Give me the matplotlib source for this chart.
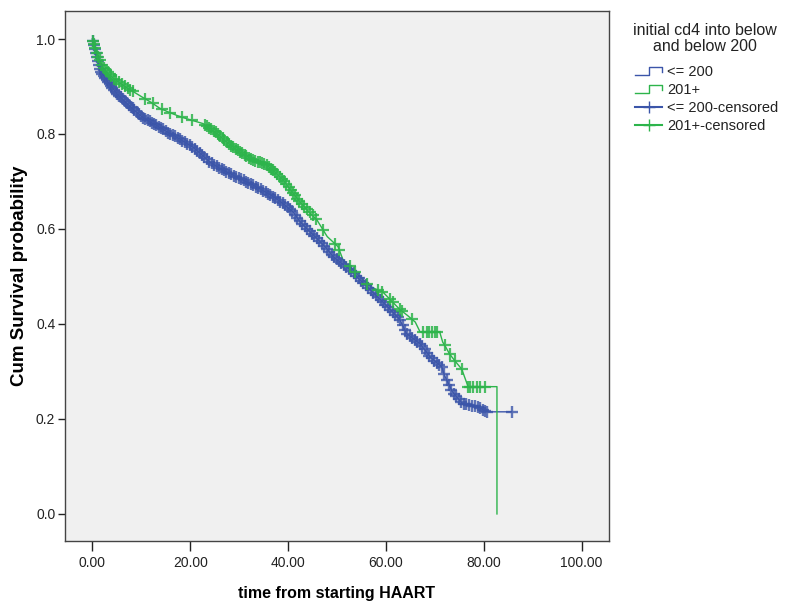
import numpy as np
import matplotlib
matplotlib.use('Agg')
import matplotlib.pyplot as plt
from matplotlib.lines import Line2D
from matplotlib.legend_handler import HandlerBase

plt.rcParams['font.family'] = ['Liberation Sans', 'DejaVu Sans']

# survival curves (time, cum survival)
blue_t = [0, 0.95, 1.6, 3.0, 5.0, 7.1, 8.7, 10.3, 12.1, 13.8,
          15.5, 17.3, 19.0, 20.6, 22.4, 24.0, 25.7, 27.5, 29.2, 30.8,
          32.5, 34.2, 36.0, 37.7, 39.4, 41.0, 42.4, 44.1, 45.9, 47.7,
          49.2, 50.9, 52.6, 54.3, 56.1, 57.8, 59.4, 61.1, 62.8, 64.2,
          65.6, 67.0, 68.0, 69.0, 70.2, 71.4, 72.0, 72.8, 73.6, 74.6,
          75.7, 77.2, 78.6, 79.6, 80.6, 85.7]
blue_s = [1.0, 0.96, 0.933, 0.912, 0.885, 0.864, 0.849, 0.835, 0.824, 0.814,
          0.803, 0.793, 0.782, 0.772, 0.756, 0.741, 0.730, 0.720, 0.711, 0.703,
          0.694, 0.685, 0.674, 0.663, 0.650, 0.636, 0.616, 0.598, 0.580, 0.561,
          0.542, 0.528, 0.515, 0.497, 0.479, 0.462, 0.446, 0.428, 0.41, 0.38,
          0.369, 0.358, 0.345, 0.331, 0.32, 0.31, 0.291, 0.274, 0.257, 0.245,
          0.232, 0.229, 0.226, 0.221, 0.215, 0.215]

green_t = [0, 0.95, 2.2, 4.2, 7.1, 8.7, 10.3, 12.1, 13.8, 15.6,
           17.3, 19.0, 20.6, 22.6, 24.0, 25.5, 27.1, 28.8, 30.5, 32.2,
           34.0, 35.7, 37.3, 39.0, 40.7, 42.4, 44.1, 45.9, 48.0, 50.2,
           51.2, 52.9, 54.6, 56.8, 58.2, 59.4, 61.1, 62.8, 64.4, 66.0,
           67.0, 71.0, 71.6, 72.3, 73.0, 74.2, 75.5, 76.2, 76.8, 82.7, 82.7]
green_s = [1.0, 0.969, 0.939, 0.918, 0.897, 0.887, 0.877, 0.866, 0.854, 0.846,
           0.839, 0.833, 0.828, 0.822, 0.812, 0.801, 0.786, 0.772, 0.760, 0.749,
           0.741, 0.734, 0.72, 0.703, 0.680, 0.657, 0.638, 0.619, 0.584, 0.563,
           0.536, 0.518, 0.5, 0.479, 0.472, 0.467, 0.449, 0.431, 0.418, 0.404,
           0.383, 0.383, 0.362, 0.35, 0.337, 0.321, 0.305, 0.285, 0.268, 0.268, 0.0]

# censoring times
blue_cens = [0.1, 0.3, 0.5, 0.7, 0.9, 1.1, 1.3, 1.5, 1.7, 2.0, 2.3, 2.6, 2.9,
             3.2, 3.5, 3.8, 4.1, 4.4, 4.8, 5.1, 5.5, 5.8, 6.2, 6.6, 7.0, 7.4,
             7.8, 8.2, 8.6, 9.1, 9.5, 9.9, 10.4, 10.8, 11.3, 11.7, 12.2, 12.6,
             13.1, 13.6, 14.0, 14.5, 15.0, 15.5, 15.9, 16.4, 16.9, 17.4, 17.9,
             18.4, 18.9, 19.4, 19.9, 20.4, 20.9, 21.4, 21.9, 22.4, 22.9, 23.4,
             23.9, 24.4, 24.9, 25.4, 25.9, 26.4, 26.9, 27.4, 27.9, 28.4, 28.9,
             29.4, 29.9, 30.4, 30.9, 31.4, 31.9, 32.4, 32.9, 33.4, 33.9, 34.4,
             34.9, 35.4, 35.9, 36.4, 36.9, 37.4, 37.9, 38.4, 38.9, 39.4, 39.9,
             40.4, 40.9, 41.4, 41.9, 42.4, 42.9, 43.4, 43.9, 44.4, 44.9, 45.4,
             45.9, 46.4, 46.9, 47.4, 47.9, 48.4, 48.9, 49.4, 49.9, 50.4, 50.9,
             51.4, 51.9, 52.4, 52.9, 53.4, 53.9, 54.4, 54.9, 55.4, 55.9, 56.4,
             56.9, 57.4, 57.9, 58.4, 58.9, 59.4, 59.9, 60.4, 60.9, 61.4, 61.9,
             62.4, 62.9, 63.4, 63.9, 64.4, 64.9, 65.4, 65.9, 66.4, 66.9, 67.4,
             67.9, 68.4, 68.9, 69.4, 69.9, 70.4, 70.9, 71.4, 71.9, 72.4, 72.9,
             73.4, 73.9, 74.4, 74.9, 75.4, 75.9, 76.4, 77.0, 77.6, 78.2, 78.8,
             79.3, 79.8, 80.3, 80.6, 85.7]
green_cens = [0.1, 0.3, 0.6, 0.9, 1.2, 1.5, 1.9, 2.3, 2.7, 3.1, 3.5, 3.9, 4.4,
              4.9, 5.5, 6.0, 6.6, 7.2, 7.7, 8.3, 10.8, 12.3, 14.2, 15.8, 18.3,
              20.4, 23.0, 23.4, 23.9, 24.3, 24.8, 25.2, 25.7, 26.1, 26.6, 27.0,
              27.5, 27.9, 28.4, 28.8, 29.3, 29.7, 30.2, 30.6, 31.1, 31.5, 32.0,
              32.4, 32.9, 33.3, 33.8, 34.2, 34.7, 35.1, 35.6, 36.0, 36.5, 36.9,
              37.4, 37.8, 38.3, 38.7, 39.2, 39.6, 40.1, 40.5, 41.0, 41.4, 41.9,
              42.3, 42.8, 43.3, 43.8, 44.4, 45.0, 45.7, 47.2, 49.6, 50.5, 52.6,
              53.7, 56.2, 58.4, 59.2, 60.8, 61.4, 62.8, 63.2, 65.3, 67.6, 68.3,
              68.9, 69.4, 70.0, 70.4, 72.0, 73.0, 74.1, 75.5, 76.8, 77.2, 77.8,
              78.6, 79.2, 80.2]

blue = '#3b55a9'
green = '#2db44b'


class StepHandler(HandlerBase):
    def create_artists(self, legend, orig_handle, xdescent, ydescent,
                       width, height, fontsize, trans):
        x0, y0 = -xdescent, -ydescent
        xs = [x0, x0 + 0.5 * width, x0 + 0.5 * width, x0 + width, x0 + width]
        ys = [y0 + 0.1 * height, y0 + 0.1 * height, y0 + 0.85 * height,
              y0 + 0.85 * height, y0 + 0.35 * height]
        ln = Line2D(xs, ys, color=orig_handle.get_color(), lw=1)
        ln.set_transform(trans)
        return [ln]


fig = plt.figure(figsize=(7.87, 6.04), dpi=100)
ax = fig.add_axes([0.0826, 0.1043, 0.6912, 0.8775])
ax.set_facecolor('#f0f0f0')

ax.plot(blue_t, blue_s, color=blue, lw=1)
ax.plot(green_t, green_s, color=green, lw=1)

ax.plot(blue_cens, np.interp(blue_cens, blue_t, blue_s), ls='none', marker='+',
        ms=8, mew=1.7, color=blue, alpha=0.8)
ax.plot(green_cens, np.interp(green_cens, green_t, green_s), ls='none', marker='+',
        ms=8, mew=1.6, color=green, alpha=0.85)

ax.set_xlim(-5.6, 105.6)
ax.set_ylim(-0.057, 1.059)
ax.set_xticks([0, 20, 40, 60, 80, 100])
ax.set_xticklabels(['%.2f' % v for v in [0, 20, 40, 60, 80, 100]])
ax.set_yticks([0, 0.2, 0.4, 0.6, 0.8, 1.0])
ax.set_yticklabels(['%.1f' % v for v in [0, 0.2, 0.4, 0.6, 0.8, 1.0]])
ax.tick_params(axis='x', length=7, width=1, labelsize=10, colors='#222222', pad=4)
ax.tick_params(axis='y', length=5, width=1, labelsize=10, colors='#222222', pad=2)
for sp in ax.spines.values():
    sp.set_color('#444444')
    sp.set_linewidth(1)

ax.set_xlabel('time from starting HAART', fontsize=11.5, fontweight='bold', labelpad=11)
ax.set_ylabel('Cum Survival probability', fontsize=13.5, fontweight='bold', labelpad=6)

fig.text(0.896, 0.936, 'initial cd4 into below\nand below 200', ha='center',
         va='center', fontsize=11.5, linespacing=1.1, color='#222222')

h1 = Line2D([], [], color=blue)
h2 = Line2D([], [], color=green)
h3 = Line2D([], [], color=blue, marker='+', ms=9, mew=1)
h4 = Line2D([], [], color=green, marker='+', ms=9, mew=1)
leg = fig.legend([h1, h2, h3, h4], ['<= 200', '201+', '<= 200-censored', '201+-censored'],
                 loc='upper left', bbox_to_anchor=(0.8069, 0.8924),
                 frameon=False, fontsize=10.5, borderaxespad=0, borderpad=0,
                 handlelength=1.85, handletextpad=0.34, labelspacing=0.27,
                 numpoints=1,
                 handler_map={h1: StepHandler(), h2: StepHandler()})
for t in leg.get_texts():
    t.set_color('#222222')

fig.savefig('out.png', dpi=100)
